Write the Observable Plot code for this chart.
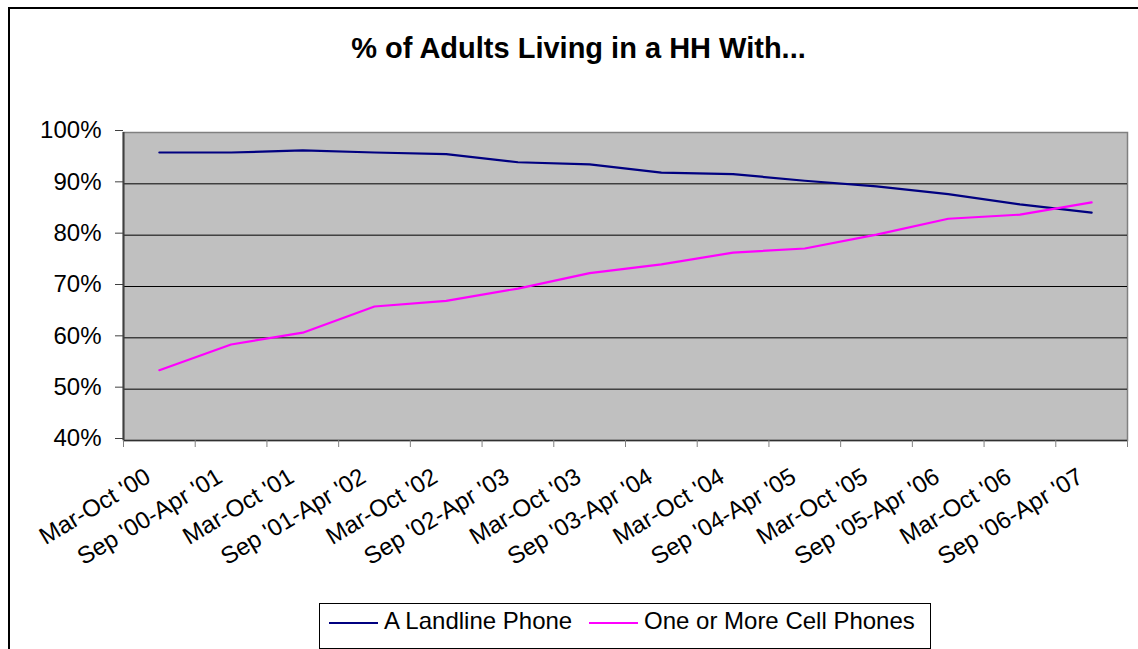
<!DOCTYPE html>
<html>
<head>
<meta charset="utf-8">
<script src="https://cdn.jsdelivr.net/npm/d3@7"></script>
<script src="https://cdn.jsdelivr.net/npm/@observablehq/plot@0.6"></script>
<style>
  html, body { margin: 0; padding: 0; background: #fff; overflow: hidden; }
  #wrap { position: relative; width: 1138px; height: 649px; overflow: hidden; font-family: "Liberation Sans", Arial, sans-serif; }
  #border { position: absolute; left: 8px; top: 7px; width: 1300px; height: 800px; border-left: 2px solid #000; border-top: 2px solid #000; }
  #title { position: absolute; left: 0; top: 32px; width: 1157px; text-align: center; font-weight: bold; font-size: 29px; line-height: 32px; color: #000; }
  #chart { position: absolute; left: 0; top: 0; }
  #legend { position: absolute; left: 319px; top: 603px; width: 612px; height: 46px; box-sizing: border-box; border: 1px solid #000; background: #fff; }
  .sw { position: absolute; top: 18px; width: 49px; height: 0; border-top: 2px solid; }
  .lt { position: absolute; top: 3px; font-size: 24px; line-height: 28px; color: #000; white-space: nowrap; }
</style>
</head>
<body>
<div id="wrap">
  <div id="border"></div>
  <div id="chart"></div>
  <div id="title">% of Adults Living in a HH With...</div>
  <div id="legend"></div>
</div>
<script>
const categories = ["Mar-Oct '00", "Sep '00-Apr '01", "Mar-Oct '01", "Sep '01-Apr '02", "Mar-Oct '02", "Sep '02-Apr '03", "Mar-Oct '03", "Sep '03-Apr '04", "Mar-Oct '04", "Sep '04-Apr '05", "Mar-Oct '05", "Sep '05-Apr '06", "Mar-Oct '06", "Sep '06-Apr '07"];
const landline = [96.1, 96.1, 96.5, 96.1, 95.8, 94.2, 93.8, 92.2, 91.9, 90.6, 89.5, 88.0, 86.0, 84.4];
const cell = [53.7, 58.7, 61.0, 66.1, 67.2, 69.6, 72.6, 74.3, 76.6, 77.4, 80.1, 83.2, 84.0, 86.4];
const yTicks = [40, 50, 60, 70, 80, 90, 100];
const seriesNames = ["A Landline Phone", "One or More Cell Phones"];
const seriesColors = ["#000080", "#FF00FF"];

const n = categories.length;
const idx = d3.range(n);
const xDomain = [-0.5, n - 0.5];
const boundaries = d3.range(n + 1).map(i => i - 0.5);
const yDomain = [yTicks[0], yTicks[yTicks.length - 1]];
const gridVals = yTicks.filter(v => v > yDomain[0] && v < yDomain[1]);

const rows = [];
idx.forEach(i => {
  rows.push({i, v: landline[i], s: seriesNames[0]});
});
idx.forEach(i => {
  rows.push({i, v: cell[i], s: seriesNames[1]});
});

const chart = Plot.plot({
  width: 1138,
  height: 560,
  marginTop: 132,
  marginBottom: 120,
  marginLeft: 123,
  marginRight: 11,
  style: {fontFamily: "'Liberation Sans', Arial, sans-serif", fontSize: "24px", background: "transparent", overflow: "visible", color: "#000"},
  x: {type: "linear", domain: xDomain},
  y: {domain: yDomain},
  color: {domain: seriesNames, range: seriesColors},
  marks: [
    Plot.frame({fill: "#C0C0C0", stroke: "#808080", strokeWidth: 1.5}),
    Plot.ruleY(gridVals, {stroke: "#000", strokeWidth: 1}),
    Plot.ruleX([xDomain[0]], {stroke: "#404040", strokeWidth: 2}),
    Plot.ruleY([yDomain[0]], {stroke: "#303030", strokeWidth: 1.5}),
    Plot.axisY({ticks: yTicks, tickFormat: d => d + "%", tickSize: 8, tickPadding: 14, stroke: "#404040", fill: "#000", fontSize: 24, dy: -2, label: null}),
    Plot.axisX({ticks: boundaries, tickFormat: () => "", tickSize: 7, stroke: "#808080", label: null}),
    Plot.axisX({ticks: idx, tickFormat: i => categories[i], tickSize: 0, tickPadding: 34, tickRotate: -31, dx: -11, fontSize: 24, fill: "#000", label: null}),
    Plot.line(rows, {x: "i", y: "v", z: "s", stroke: "s", strokeWidth: 2.2})
  ]
});
document.getElementById("chart").appendChild(chart);

const legend = document.getElementById("legend");
const swX = [9, 269];
const txX = [64, 324];
seriesNames.forEach((name, k) => {
  const sw = document.createElement("div");
  sw.className = "sw";
  sw.style.left = swX[k] + "px";
  sw.style.borderTopColor = seriesColors[k];
  legend.appendChild(sw);
  const t = document.createElement("div");
  t.className = "lt";
  t.style.left = txX[k] + "px";
  t.textContent = name;
  legend.appendChild(t);
});
</script>
</body>
</html>
